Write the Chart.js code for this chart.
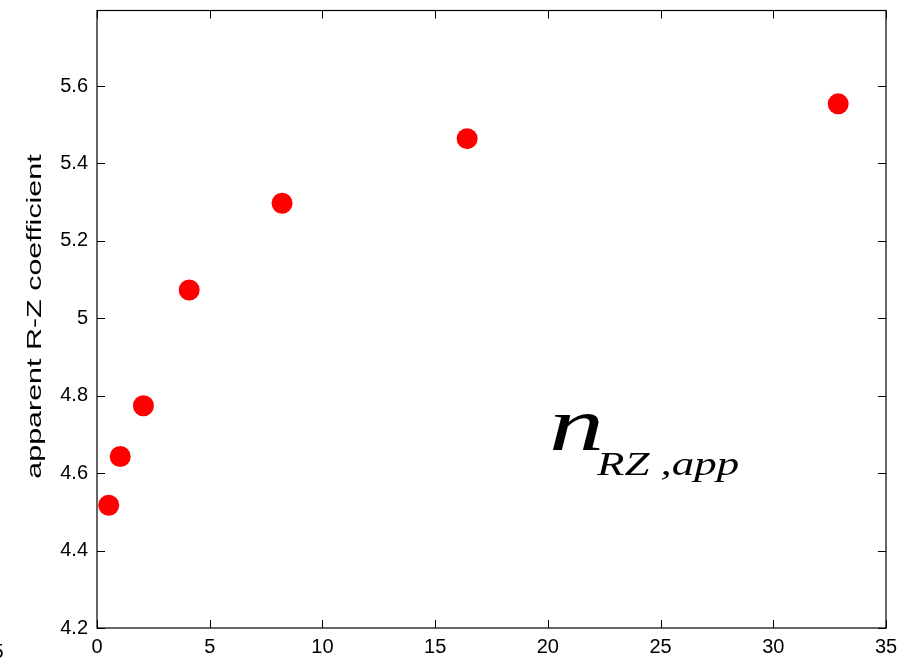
<!DOCTYPE html>
<html lang="en">
<head>
    <meta charset="UTF-8">
    <title>Apparent R-Z coefficient</title>
    <script src="https://cdn.jsdelivr.net/npm/chart.js"></script>
    <style>
        html, body { margin: 0; padding: 0; background: white; }
        .wrap { width: 912px; height: 660px; position: relative; }
    </style>
</head>
<body>
    <div class="wrap">
        <canvas id="chart" width="912" height="660"></canvas>
    </div>

    <script>
        // data
        const xValues = [0.52, 1.03, 2.06, 4.09, 8.21, 16.42, 32.88];
        const yValues = [4.517, 4.643, 4.774, 5.073, 5.297, 5.464, 5.554];
        const xTicks = [0, 5, 10, 15, 20, 25, 30, 35];
        const yTicks = [4.2, 4.4, 4.6, 4.8, 5.0, 5.2, 5.4, 5.6];
        const yTitle = 'apparent R-Z coefficient';

        const points = xValues.map((x, i) => ({ x: x, y: yValues[i] }));

        // box, inward ticks on all four sides, y title and the label
        const framePlugin = {
            id: 'frame',
            afterDraw(chart) {
                const ctx = chart.ctx;
                const a = chart.chartArea;
                const xs = chart.scales.x;
                const ys = chart.scales.y;
                const tl = 8;
                ctx.save();
                ctx.strokeStyle = '#000';
                ctx.lineWidth = 1.2;
                ctx.strokeRect(a.left, a.top, a.right - a.left, a.bottom - a.top);
                ctx.lineWidth = 1;
                ctx.beginPath();
                xTicks.forEach(v => {
                    const px = Math.round(xs.getPixelForValue(v)) + 0.5;
                    ctx.moveTo(px, a.bottom); ctx.lineTo(px, a.bottom - tl);
                    ctx.moveTo(px, a.top); ctx.lineTo(px, a.top + tl);
                });
                yTicks.forEach(v => {
                    const py = Math.round(ys.getPixelForValue(v)) + 0.5;
                    ctx.moveTo(a.left, py); ctx.lineTo(a.left + tl, py);
                    ctx.moveTo(a.right, py); ctx.lineTo(a.right - tl, py);
                });
                ctx.stroke();

                // y axis title (stretched along its baseline like the original)
                ctx.fillStyle = '#000';
                ctx.save();
                ctx.translate(35, 316.5);
                ctx.rotate(-Math.PI / 2);
                ctx.scale(1.45, 1);
                ctx.font = '21px "Liberation Sans", Arial, sans-serif';
                ctx.textAlign = 'center';
                ctx.textBaseline = 'middle';
                ctx.fillText(yTitle, 0, 0);
                ctx.restore();

                // n_{RZ,app}
                ctx.save();
                ctx.translate(549, 450);
                ctx.scale(1.45, 1);
                ctx.font = 'italic 76px "Liberation Serif", "Times New Roman", serif';
                ctx.textAlign = 'left';
                ctx.textBaseline = 'alphabetic';
                ctx.fillText('n', 0, 0);
                ctx.restore();
                ctx.save();
                ctx.translate(597, 475);
                ctx.scale(1.36, 1);
                ctx.font = 'italic 33px "Liberation Serif", "Times New Roman", serif';
                ctx.textAlign = 'left';
                ctx.textBaseline = 'alphabetic';
                ctx.fillText('RZ ,app', 0, 0);
                ctx.restore();

                // clipped label at the lower left edge
                ctx.font = '20px "Liberation Sans", Arial, sans-serif';
                ctx.textAlign = 'right';
                ctx.textBaseline = 'alphabetic';
                ctx.fillText('5', 3.5, 658);
                ctx.restore();
            }
        };

        new Chart(document.getElementById('chart').getContext('2d'), {
            type: 'scatter',
            data: {
                datasets: [{
                    data: points,
                    backgroundColor: '#ff0000',
                    borderWidth: 0,
                    pointRadius: 10.5,
                    pointHoverRadius: 10.5
                }]
            },
            options: {
                responsive: false,
                animation: false,
                layout: { padding: { top: 7, right: 26, left: 0, bottom: 0 } },
                plugins: {
                    legend: { display: false },
                    tooltip: { enabled: false }
                },
                scales: {
                    x: {
                        type: 'linear',
                        min: 0,
                        max: 35,
                        grid: { display: false, drawTicks: false },
                        border: { display: false },
                        afterBuildTicks: s => { s.ticks = xTicks.map(v => ({ value: v })); },
                        afterFit: s => { s.height = 32; s.paddingLeft = 0; s.paddingRight = 0; },
                        ticks: {
                            padding: 7,
                            color: '#000',
                            maxRotation: 0,
                            font: { family: '"Liberation Sans", Arial, sans-serif', size: 20 },
                            callback: v => String(v)
                        }
                    },
                    y: {
                        type: 'linear',
                        min: 4.2,
                        max: 5.795,
                        grid: { display: false, drawTicks: false },
                        border: { display: false },
                        afterBuildTicks: s => { s.ticks = yTicks.map(v => ({ value: v })); },
                        afterFit: s => { s.width = 97; s.paddingTop = 0; s.paddingBottom = 0; },
                        ticks: {
                            padding: 9,
                            color: '#000',
                            font: { family: '"Liberation Sans", Arial, sans-serif', size: 20 },
                            callback: v => String(Number(v.toFixed(1)))
                        }
                    }
                }
            },
            plugins: [framePlugin]
        });
    </script>
</body>
</html>
